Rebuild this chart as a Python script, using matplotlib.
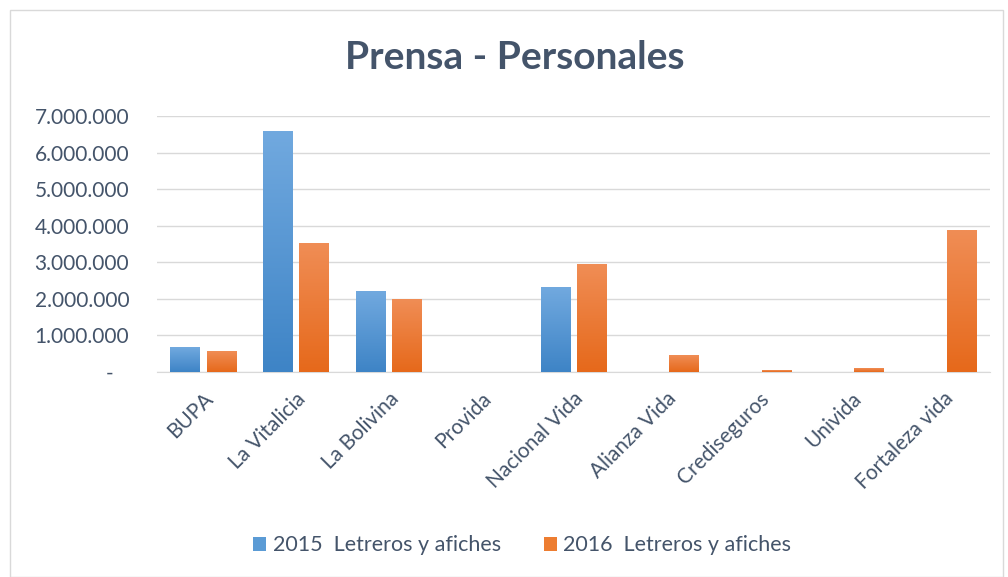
import numpy as np
import matplotlib.pyplot as plt
from matplotlib.colors import LinearSegmentedColormap
from matplotlib.patches import Rectangle, Patch
from matplotlib.ticker import FuncFormatter

plt.rcParams['font.family'] = ['Lato', 'DejaVu Sans']

categorias = ["BUPA", "La Vitalicia", "La Bolivina", "Provida", "Nacional Vida",
              "Alianza Vida", "Crediseguros", "Univida", "Fortaleza vida"]
valores_2015 = [660000, 6580000, 2210000, 0, 2320000, 0, 0, 0, 0]
valores_2016 = [550000, 3500000, 1970000, 0, 2950000, 460000, 30000, 100000, 3880000]
series = ["2015  Letreros y afiches", "2016  Letreros y afiches"]

texto = "#44546a"
azul = LinearSegmentedColormap.from_list("azul", ["#3e84c6", "#71a9df"])
naranja = LinearSegmentedColormap.from_list("naranja", ["#e6691b", "#f08d55"])

fig = plt.figure(figsize=(10.08, 5.77), dpi=100)
fig.patches.append(Rectangle((0.01, 0.0), 0.985, 0.982, transform=fig.transFigure,
                             fill=False, edgecolor="#d9d9d9", linewidth=1))
ax = fig.add_axes([0.1558, 0.3553, 0.8262, 0.4437])

x = np.arange(len(categorias))
ancho = 0.32
desp = 0.195
grad = np.linspace(0, 1, 100).reshape(-1, 1)


def barras(pos, vals, cmap):
    for xi, v in zip(pos, vals):
        if v <= 0:
            continue
        ax.imshow(grad, cmap=cmap, origin="lower", aspect="auto",
                  extent=(xi - ancho / 2, xi + ancho / 2, 0, v), zorder=3)


barras(x - desp, valores_2015, azul)
barras(x + desp, valores_2016, naranja)

ax.set_xlim(-0.5, len(categorias) - 0.5)
ax.set_ylim(0, 7000000)
ax.set_yticks(np.arange(0, 7000001, 1000000))


def fmt(v, _):
    if v == 0:
        return "-   "
    return f"{int(v):,}".replace(",", ".")


ax.yaxis.set_major_formatter(FuncFormatter(fmt))
ax.grid(axis="y", color="#d9d9d9", linewidth=1, zorder=0)
ax.set_axisbelow(True)
for s in ["top", "right", "left"]:
    ax.spines[s].set_visible(False)
ax.spines["bottom"].set_color("#d9d9d9")
ax.tick_params(axis="both", length=0, labelsize=15, labelcolor=texto)
ax.tick_params(axis="y", pad=20)
ax.set_xticks(x)
ax.set_xticklabels(categorias, rotation=45, ha="right", rotation_mode="anchor")
ax.tick_params(axis="x", pad=12)

fig.text(0.511, 0.9, "Prensa - Personales", ha="center", va="center",
         fontsize=28, fontweight="bold", color=texto)

handles = [Patch(facecolor="#5b9bd5"), Patch(facecolor="#ed7d31")]
fig.legend(handles, series, loc="center", bbox_to_anchor=(0.518, 0.055), ncol=2,
           frameon=False, fontsize=15.5, labelcolor=texto, handlelength=0.6,
           handleheight=0.6, handletextpad=0.3, columnspacing=2.0)

fig.savefig("out.png", dpi=100)
